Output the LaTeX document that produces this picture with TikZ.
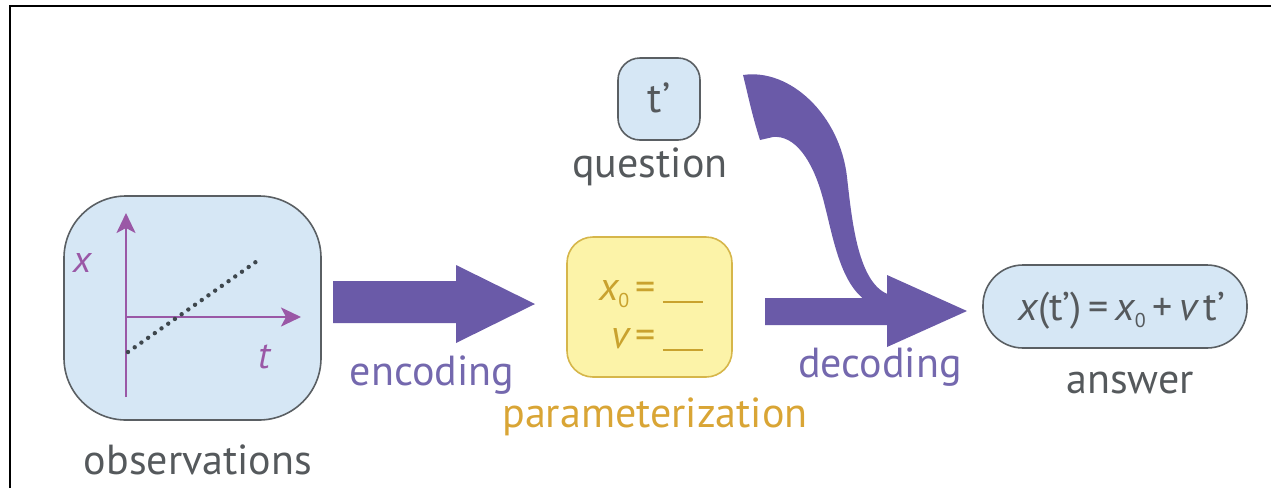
\documentclass[tikz,border=0pt]{standalone}
\usepackage{fontspec}
\setmainfont{PT Sans}
\usetikzlibrary{arrows.meta}
\definecolor{boxblue}{HTML}{D6E7F5}
\definecolor{boxline}{HTML}{5A5F63}
\definecolor{arrowcol}{HTML}{6A5AA8}
\definecolor{purtext}{HTML}{7468AE}
\definecolor{axiscol}{HTML}{9A58A6}
\definecolor{yelfill}{HTML}{FCF3A8}
\definecolor{yelline}{HTML}{D6B64A}
\definecolor{goldtext}{HTML}{C9A22E}
\definecolor{orangetext}{HTML}{D9A535}
\definecolor{graytext}{HTML}{55595C}
\definecolor{dotcol}{HTML}{3E474D}
\tikzset{
  bigfont/.style={font=\fontsize{42}{44}\selectfont},
  label/.style={bigfont, anchor=base, inner sep=0pt},
  bluebox/.style={draw=boxline, fill=boxblue, line width=1.6pt},
  axisline/.style={draw=axiscol, line width=2.4pt},
  axislabel/.style={anchor=base, inner sep=0pt, text=axiscol, font=\fontsize{38}{40}\selectfont\itshape},
  parline/.style={anchor=base east, inner sep=0pt, text=goldtext, font=\fontsize{40}{44}\selectfont},
}
\newcommand{\subzero}{\raisebox{-0.35ex}{\fontsize{20}{20}\selectfont 0}}
\begin{document}
\begin{tikzpicture}[x=1pt,y=-1pt]
\useasboundingbox (0,0) rectangle (1271,488);
% frame (cropped)
\draw[line width=2.2pt, black] (10,488) -- (10,6) -- (1271,6);

% observations box
\path[bluebox, rounded corners=62pt] (64,196) rectangle (321,420);
\node[label, text=graytext] (obs) at (198,474) {observations};
\coordinate (orig) at (126,317);
\coordinate (ytop) at (126,213);
\coordinate (ybot) at (126,397);
\coordinate (xend) at (301,317);
\draw[axisline, -{Stealth[length=20pt,width=19pt,inset=5pt]}] (ybot) -- (ytop);
\draw[axisline, -{Stealth[length=20pt,width=19pt,inset=5pt]}] (orig) -- (xend);
\draw[dotcol, line width=4.4pt, line cap=round, dash pattern=on 0pt off 8.2pt] (128,352) -- (260,259);
\node[axislabel] (xlab) at (82,272) {x};
\node[axislabel] (tlab) at (264,368) {t};

% encoding arrow
\fill[arrowcol] (333,281) -- (456,281) -- (456,265) -- (535,304) -- (456,343) -- (456,323) -- (333,323) -- cycle;
\node[label, text=purtext] (enc) at (432,385) {encoding};

% parameterization box
\path[draw=yelline, fill=yelfill, line width=1.6pt, rounded corners=26pt] (567,237) rectangle (732,377);
\node[parline] (par1) at (703,300) {{\itshape x}\subzero\,=\,\rule[-3pt]{40pt}{2.4pt}};
\node[parline] (par2) at (703,348) {{\itshape v}\,=\,\rule[-3pt]{40pt}{2.4pt}};
\node[label, text=orangetext] (parlab) at (655,427) {parameterization};

% question box
\path[bluebox, rounded corners=22pt] (618,58) rectangle (700,140);
\node[label, text=graytext] (tq) at (659,112) {t’};
\node[label, text=graytext] (q) at (650,177) {question};

% decoding arrow
\fill[arrowcol] (765,298) -- (887,298) -- (887,275) -- (967,311) -- (887,347) -- (887,325) -- (765,325) -- cycle;
% curved arrow from question
\fill[arrowcol] (743,75) .. controls (790,68) and (840,115) .. (847,177)
  .. controls (852,221) and (858,285) .. (890,295) -- (890,304) -- (865,304) -- (865,300)
  .. controls (838,280) and (832,230) .. (822,195)
  .. controls (812,160) and (795,135) .. (773,137) -- (760,140)
  .. controls (752,115) and (748,95) .. (743,75) -- cycle;
\node[label, text=purtext] (dec) at (880,377) {decoding};

% answer box
\path[bluebox, rounded corners=40pt] (983,265) rectangle (1247,348);
\node[label, text=graytext, font=\fontsize{40}{42}\selectfont] (eq) at (1122,320)
  {{\itshape x}(t’)\,=\,{\itshape x}\subzero\,+\,{\itshape v}\,t’};
\node[label, text=graytext] (ans) at (1130,393) {answer};
\end{tikzpicture}
\end{document}
